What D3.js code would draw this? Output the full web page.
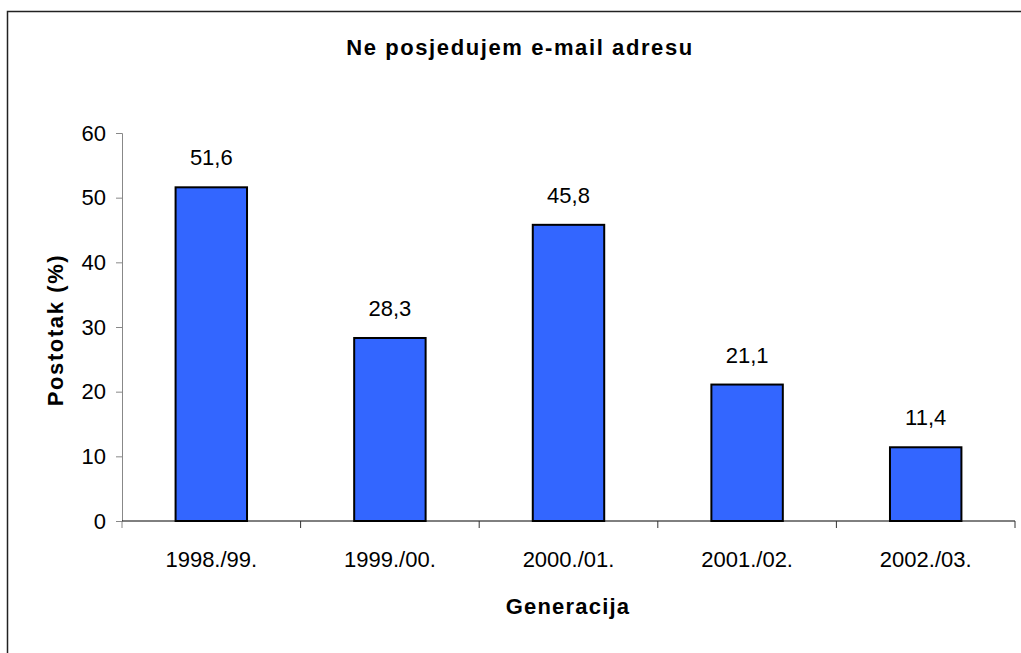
<!DOCTYPE html>
<html>
<head>
<meta charset="utf-8">
<script src="https://cdn.jsdelivr.net/npm/d3@7"></script>
<style>
  body { margin: 0; background: #fff; }
  svg { display: block; font-family: "Liberation Sans", Arial, sans-serif; }
</style>
</head>
<body>
<script>
// data
const categories = ["1998./99.", "1999./00.", "2000./01.", "2001./02.", "2002./03."];
const values = [51.6, 28.3, 45.8, 21.1, 11.4];
const yTicks = [0, 10, 20, 30, 40, 50, 60];

const width = 1021, height = 653;
const margin = {top: 133, right: 6, bottom: 132, left: 122};
const fs = 22;

const svg = d3.select("body").append("svg")
    .attr("width", width)
    .attr("height", height);

// outer frame
svg.append("rect")
    .attr("x", 7.5).attr("y", 11.5)
    .attr("width", width + 20).attr("height", height + 20)
    .attr("fill", "none")
    .attr("stroke", "#222")
    .attr("stroke-width", 1.5);

const x = d3.scaleBand()
    .domain(categories)
    .range([margin.left, width - margin.right])
    .padding(0);

const y = d3.scaleLinear()
    .domain([0, 60])
    .range([height - margin.bottom, margin.top]);

const barW = x.bandwidth() * 0.4;

// bars
svg.append("g")
  .selectAll("rect")
  .data(values)
  .join("rect")
    .attr("x", (d, i) => x(categories[i]) + (x.bandwidth() - barW) / 2)
    .attr("y", d => y(d))
    .attr("width", barW)
    .attr("height", d => y(0) - y(d))
    .attr("fill", "#3366ff")
    .attr("stroke", "#000")
    .attr("stroke-width", 2);

// value labels
svg.append("g")
    .attr("font-size", fs)
    .attr("text-anchor", "middle")
  .selectAll("text")
  .data(values)
  .join("text")
    .attr("x", (d, i) => x(categories[i]) + x.bandwidth() / 2)
    .attr("y", d => y(d) - 22)
    .text(d => d3.format(".1f")(d).replace(".", ","));

// y axis
const yAxis = svg.append("g")
    .attr("transform", `translate(${margin.left},0)`)
    .call(d3.axisLeft(y).tickValues(yTicks).tickSize(6).tickPadding(10));
yAxis.select(".domain").attr("stroke", "#888");
yAxis.selectAll(".tick line").attr("stroke", "#888");
yAxis.selectAll(".tick text")
    .attr("font-size", fs)
    .attr("font-family", "Liberation Sans, Arial, sans-serif")
    .attr("fill", "#000");

// x axis
const xAxis = svg.append("g")
    .attr("transform", `translate(0,${y(0)})`)
    .call(d3.axisBottom(x).tickSize(0).tickPadding(30));
xAxis.select(".domain").attr("stroke", "#000").attr("d", `M${margin.left},0H${width - margin.right}`);
xAxis.selectAll(".tick text")
    .attr("font-size", fs)
    .attr("font-family", "Liberation Sans, Arial, sans-serif")
    .attr("fill", "#000");

// category separators on x axis
svg.append("g")
  .selectAll("line")
  .data(categories.map(c => x(c)).concat([x.range()[1]]))
  .join("line")
    .attr("x1", d => d).attr("x2", d => d)
    .attr("y1", y(0)).attr("y2", y(0) + 7)
    .attr("stroke", (d, i) => i === 0 ? "#888" : "#333");

// title
svg.append("text")
    .attr("x", 520).attr("y", 55)
    .attr("text-anchor", "middle")
    .attr("font-size", fs)
    .attr("font-weight", "bold")
    .attr("letter-spacing", 1.6)
    .text("Ne posjedujem e-mail adresu");

// axis titles
svg.append("text")
    .attr("x", 568).attr("y", 614)
    .attr("text-anchor", "middle")
    .attr("font-size", fs)
    .attr("font-weight", "bold")
    .attr("letter-spacing", 1.2)
    .text("Generacija");

svg.append("text")
    .attr("transform", "translate(63,330) rotate(-90)")
    .attr("text-anchor", "middle")
    .attr("font-size", fs)
    .attr("font-weight", "bold")
    .attr("letter-spacing", 1.6)
    .text("Postotak (%)");
</script>
</body>
</html>
